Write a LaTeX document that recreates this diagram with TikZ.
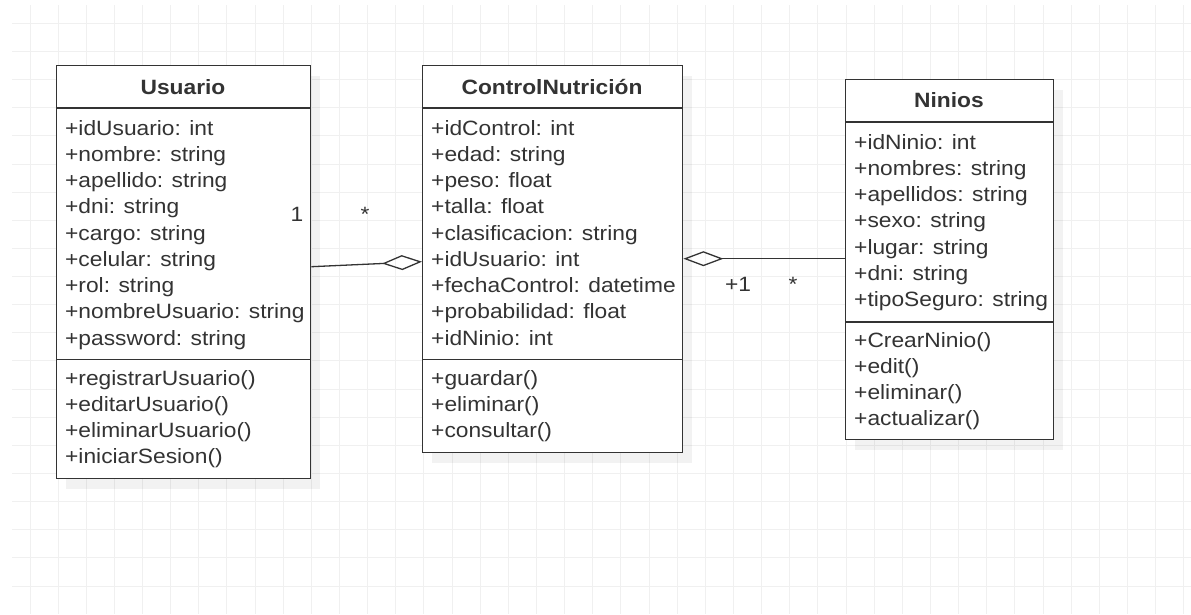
\documentclass[tikz,border=0pt]{standalone}
\usepackage{fontspec}
\setmainfont{Liberation Sans}[FakeStretch=1.1]
\usetikzlibrary{arrows.meta,shadows}
\definecolor{ink}{HTML}{333333}
\definecolor{gridc}{HTML}{F0F0F0}
\begin{document}
\begin{tikzpicture}[x=1pt,y=-1pt,
  classbox/.style={draw=ink, line width=1.4pt, fill=white, inner sep=0pt, anchor=north west,
    drop shadow={shadow xshift=9pt, shadow yshift=-10pt, fill=black, opacity=0.05}},
  sepline/.style={draw=ink, line width=1.4pt},
  txt/.style={anchor=base west, inner sep=0pt, text=ink, font=\fontsize{20.7}{24}\selectfont},
  ttl/.style={anchor=base, inner sep=0pt, text=ink, font=\fontsize{20.7}{24}\selectfont\bfseries},
  lbl/.style={anchor=base, inner sep=0pt, text=ink, font=\fontsize{20.7}{24}\selectfont},
  assoc/.style={draw=ink, line width=1.3pt, -{Diamond[open, length=40pt, width=15pt]}},
  gridline/.style={draw=gridc, line width=1pt},
]
\useasboundingbox (0,0) rectangle (1191,614);
\fill[white] (0,0) rectangle (1191,614);
% grid
\foreach \i in {0,...,41} \draw[gridline] (30+28.14*\i,5) -- (30+28.14*\i,614);
\foreach \j in {0,...,20} \draw[gridline] (12,23.3+28.14*\j) -- (1191,23.3+28.14*\j);

% Usuario
\node[classbox, minimum width=254pt, minimum height=413pt] (u) at (56,65) {};
\draw[sepline] (u.west |- 0,108) -- (u.east |- 0,108);
\draw[sepline] (u.west |- 0,359.5) -- (u.east |- 0,359.5);
\node[ttl] (ut) at (183,94.3) {Usuario};
\foreach \t [count=\k from 0] in {+idUsuario: int,+nombre: string,+apellido: string,+dni: string,+cargo: string,+celular: string,+rol: string,+nombreUsuario: string,+password: string}
  \node[txt] (ua\k) at (65,135+26.25*\k) {\t};
\foreach \t [count=\k from 0] in {+registrarUsuario(),+editarUsuario(),+eliminarUsuario(),+iniciarSesion()}
  \node[txt] (um\k) at (65,385+26.25*\k) {\t};

% ControlNutricion
\node[classbox, minimum width=260pt, minimum height=387pt] (c) at (422,65) {};
\draw[sepline] (c.west |- 0,108) -- (c.east |- 0,108);
\draw[sepline] (c.west |- 0,359.5) -- (c.east |- 0,359.5);
\node[ttl] (ct) at (552,94.3) {ControlNutrición};
\foreach \t [count=\k from 0] in {+idControl: int,+edad: string,+peso: float,+talla: float,+clasificacion: string,+idUsuario: int,+fechaControl: datetime,+probabilidad: float,+idNinio: int}
  \node[txt] (ca\k) at (431,135+26.25*\k) {\t};
\foreach \t [count=\k from 0] in {+guardar(),+eliminar(),+consultar()}
  \node[txt] (cm\k) at (431,385+26.25*\k) {\t};

% Ninios
\node[classbox, minimum width=208pt, minimum height=360pt] (n) at (845,79) {};
\draw[sepline] (n.west |- 0,122) -- (n.east |- 0,122);
\draw[sepline] (n.west |- 0,322) -- (n.east |- 0,322);
\node[ttl] (nt) at (949,107.7) {Ninios};
\foreach \t [count=\k from 0] in {+idNinio: int,+nombres: string,+apellidos: string,+sexo: string,+lugar: string,+dni: string,+tipoSeguro: string}
  \node[txt] (na\k) at (854,149+26.25*\k) {\t};
\foreach \t [count=\k from 0] in {+CrearNinio(),+edit(),+eliminar(),+actualizar()}
  \node[txt] (nm\k) at (854,347+26.25*\k) {\t};

% connectors
\draw[assoc] ([yshift=5.5pt]u.east) -- ([yshift=-2.5pt]c.west);
\draw[assoc] ([yshift=1pt]n.west) -- ([yshift=0.5pt]c.east);

% multiplicities
\node[lbl] (m1) at (297,221.5) {1};
\node[lbl] (m2) at (365,221.5) {*};
\node[lbl] (m3) at (738,291) {+1};
\node[lbl] (m4) at (793,291) {*};
\end{tikzpicture}
\end{document}
